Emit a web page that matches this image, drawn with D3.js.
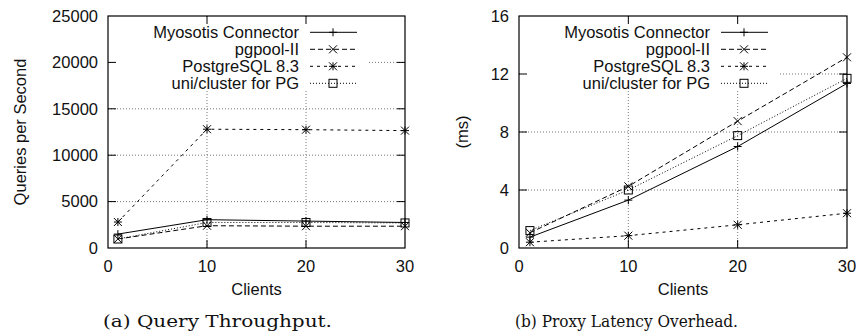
<!DOCTYPE html>
<html>
<head>
<meta charset="utf-8">
<script src="https://cdn.jsdelivr.net/npm/d3@7"></script>
<style>
  html, body { margin: 0; padding: 0; background: #fff; }
  svg text { font-family: "Liberation Sans", Arial, sans-serif; fill: #111; }
  .caption { font-family: "DejaVu Serif", "Liberation Serif", serif; }
</style>
</head>
<body>
<svg id="chart" width="860" height="334"></svg>
<script>
// clients on the x axis
const clients = [1, 10, 20, 30];
const seriesNames = ["Myosotis Connector", "pgpool-II", "PostgreSQL 8.3", "uni/cluster for PG"];

// (a) query throughput, queries per second
const throughputMyosotis = [1500, 3050, 2900, 2750];
const throughputPgpool = [970, 2400, 2350, 2350];
const throughputPostgres = [2800, 12800, 12750, 12650];
const throughputUnicluster = [970, 2750, 2750, 2700];

// (b) proxy latency overhead, ms
const latencyMyosotis = [0.75, 3.3, 7.0, 11.35];
const latencyPgpool = [1.05, 4.25, 8.75, 13.15];
const latencyPostgres = [0.4, 0.85, 1.6, 2.4];
const latencyUnicluster = [1.2, 4.0, 7.75, 11.7];

const xTicks = [0, 10, 20, 30];
const throughputTicks = [0, 5000, 10000, 15000, 20000, 25000];
const latencyTicks = [0, 4, 8, 12, 16];

// line style + marker per series
const styles = [
  { dash: null, marker: "plus" },
  { dash: "5,3", marker: "cross" },
  { dash: "3,4", marker: "star" },
  { dash: "1,2", marker: "square" }
];

const svg = d3.select("#chart");

function drawMarker(g, type, cx, cy) {
  const s = 4;
  const m = g.append("g").attr("stroke", "#000").attr("stroke-width", 1).attr("fill", "none");
  if (type === "plus" || type === "star") {
    m.append("line").attr("x1", cx - s).attr("x2", cx + s).attr("y1", cy).attr("y2", cy);
    m.append("line").attr("x1", cx).attr("x2", cx).attr("y1", cy - s).attr("y2", cy + s);
  }
  if (type === "cross" || type === "star") {
    m.append("line").attr("x1", cx - s).attr("x2", cx + s).attr("y1", cy - s).attr("y2", cy + s);
    m.append("line").attr("x1", cx - s).attr("x2", cx + s).attr("y1", cy + s).attr("y2", cy - s);
  }
  if (type === "square") {
    m.append("rect").attr("x", cx - s).attr("y", cy - s).attr("width", 2 * s).attr("height", 2 * s);
  }
}

function drawPanel(opts) {
  const { left, right, top, bottom, yMax, yTicks, series, yLabel, yLabelX, keyEnd, keyGapRight, caption, captionX, captionWidth } = opts;

  const x = d3.scaleLinear().domain([0, 30]).range([left, right]);
  const y = d3.scaleLinear().domain([0, yMax]).range([bottom, top]);
  const g = svg.append("g");

  // grid
  const grid = g.append("g").attr("stroke", "#777").attr("stroke-width", 1).attr("stroke-dasharray", "1,2");
  yTicks.slice(1, -1).forEach(t => {
    grid.append("line").attr("x1", left).attr("x2", right).attr("y1", y(t)).attr("y2", y(t));
  });
  xTicks.slice(1, -1).forEach(t => {
    grid.append("line").attr("x1", x(t)).attr("x2", x(t)).attr("y1", top).attr("y2", bottom);
  });

  // key area hides the grid behind it
  g.append("rect")
    .attr("x", left + 1).attr("y", top + 1)
    .attr("width", keyGapRight - left - 1).attr("height", 88 - top)
    .attr("fill", "#fff");

  // axes: inward ticks, mirrored
  const tickLen = 8;
  const axes = g.append("g").attr("stroke", "#000").attr("stroke-width", 1);
  yTicks.slice(1, -1).forEach(t => {
    axes.append("line").attr("x1", left).attr("x2", left + tickLen).attr("y1", y(t)).attr("y2", y(t));
    axes.append("line").attr("x1", right).attr("x2", right - tickLen).attr("y1", y(t)).attr("y2", y(t));
  });
  xTicks.slice(1, -1).forEach(t => {
    axes.append("line").attr("x1", x(t)).attr("x2", x(t)).attr("y1", bottom).attr("y2", bottom - tickLen);
    axes.append("line").attr("x1", x(t)).attr("x2", x(t)).attr("y1", top).attr("y2", top + tickLen);
  });
  g.append("rect")
    .attr("x", left).attr("y", top)
    .attr("width", right - left).attr("height", bottom - top)
    .attr("fill", "none").attr("stroke", "#000").attr("stroke-width", 1.2);

  // tick labels
  g.selectAll(".ytl").data(yTicks).enter().append("text")
    .attr("x", left - 10).attr("y", d => y(d)).attr("dy", "0.35em")
    .attr("text-anchor", "end").style("font-size", "16.5px").text(d => d);
  g.selectAll(".xtl").data(xTicks).enter().append("text")
    .attr("x", d => x(d)).attr("y", bottom + 24)
    .attr("text-anchor", "middle").style("font-size", "16.5px").text(d => d);

  // axis titles
  g.append("text")
    .attr("x", (left + right) / 2).attr("y", bottom + 47)
    .attr("text-anchor", "middle").style("font-size", "16.5px").text("Clients");
  g.append("text")
    .attr("transform", `translate(${yLabelX},${(top + bottom) / 2}) rotate(-90)`)
    .attr("text-anchor", "middle").style("font-size", "16.5px").text(yLabel);

  // series
  const line = d3.line().x((d, i) => x(clients[i])).y(d => y(d));
  series.forEach((vals, k) => {
    const st = styles[k];
    g.append("path").datum(vals)
      .attr("d", line)
      .attr("fill", "none").attr("stroke", "#000").attr("stroke-width", 1)
      .attr("stroke-dasharray", st.dash);
    vals.forEach((v, i) => drawMarker(g, st.marker, x(clients[i]), y(v)));
  });

  // key
  seriesNames.forEach((name, k) => {
    const ry = 32.3 + k * 17;
    g.append("text")
      .attr("x", keyEnd).attr("y", ry).attr("dy", "0.35em")
      .attr("text-anchor", "end").style("font-size", "16.5px").text(name);
    g.append("line")
      .attr("x1", keyEnd + 11).attr("x2", keyEnd + 58).attr("y1", ry).attr("y2", ry)
      .attr("stroke", "#000").attr("stroke-width", 1).attr("stroke-dasharray", styles[k].dash);
    drawMarker(g, styles[k].marker, keyEnd + 34, ry);
  });

  // caption
  svg.append("text")
    .attr("class", "caption")
    .attr("x", captionX).attr("y", 327)
    .attr("text-anchor", "middle")
    .attr("textLength", captionWidth).attr("lengthAdjust", "spacingAndGlyphs")
    .style("font-size", "17px").text(caption);
}

drawPanel({
  left: 108, right: 405, top: 16, bottom: 248,
  yMax: 25000, yTicks: throughputTicks,
  series: [throughputMyosotis, throughputPgpool, throughputPostgres, throughputUnicluster],
  yLabel: "Queries per Second", yLabelX: 26,
  keyEnd: 299, keyGapRight: 367,
  caption: "(a) Query Throughput.", captionX: 217.5, captionWidth: 229
});

drawPanel({
  left: 519, right: 847, top: 16, bottom: 248,
  yMax: 16, yTicks: latencyTicks,
  series: [latencyMyosotis, latencyPgpool, latencyPostgres, latencyUnicluster],
  yLabel: "(ms)", yLabelX: 468,
  keyEnd: 710, keyGapRight: 778,
  caption: "(b) Proxy Latency Overhead.", captionX: 626.5, captionWidth: 223
});
</script>
</body>
</html>
